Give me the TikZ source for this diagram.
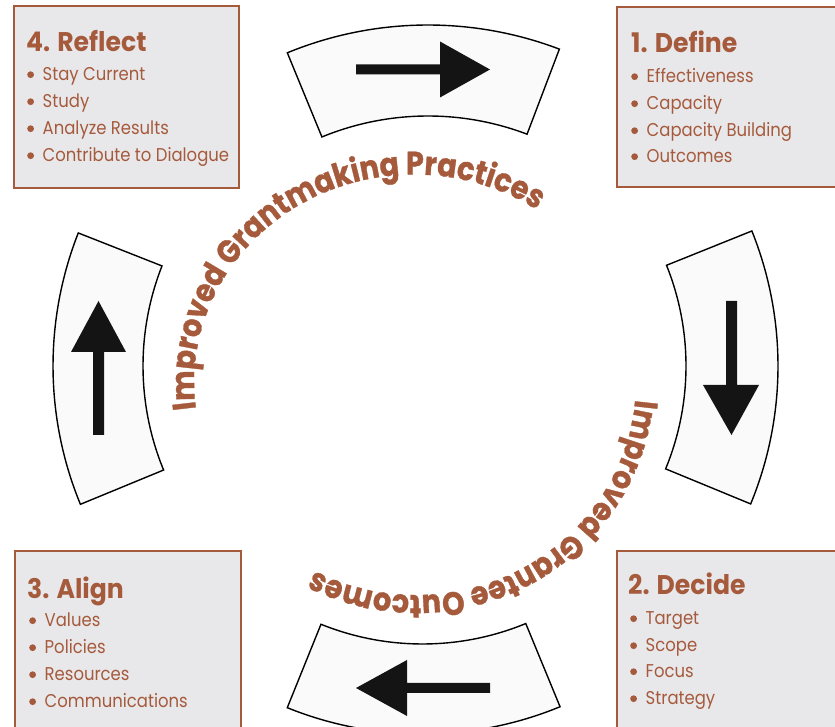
\documentclass[tikz,border=0pt]{standalone}
\usepackage{fontspec}
\usetikzlibrary{calc,decorations.text}
\newfontfamily\pop{Poppins}[FakeStretch=0.89]
\newfontfamily\popt{Poppins}[FakeStretch=0.93]
\newfontfamily\popc{Poppins}[FakeStretch=0.88,FakeBold=1]
\definecolor{tbrown}{RGB}{166,90,60}
\definecolor{boxfill}{RGB}{232,232,235}
\definecolor{segfill}{RGB}{250,250,250}
\definecolor{arrowfill}{RGB}{20,20,20}
\newcommand\bul{\makebox[15.5pt][l]{\tikz[baseline=0pt]\fill[tbrown] (3.5pt,6.3pt) circle (3.4pt);}}
\tikzset{
 panel/.style={draw=tbrown, line width=2pt, fill=boxfill, inner sep=0pt, anchor=south west},
 ttl/.style={anchor=base west, inner sep=0pt, text=tbrown, font=\popt\bfseries\fontsize{27}{27}\selectfont},
 itm/.style={anchor=base west, inner sep=0pt, text=tbrown, font=\pop\fontsize{18.5}{18.5}\selectfont},
 seg/.style={draw=black, line width=1.4pt, fill=segfill},
 arr/.style={fill=arrowfill, draw=none},
}
\begin{document}
\begin{tikzpicture}[x=1pt,y=1pt]
\useasboundingbox (0,0) rectangle (835,727);
% panels
\node[panel, minimum width=225pt, minimum height=182pt] (b4) at (13,538) {};
\node[panel, minimum width=230pt, minimum height=180pt] (b1) at (616,539) {};
\node[panel, minimum width=226pt, minimum height=185pt] (b3) at (14,-10) {};
\node[panel, minimum width=230pt, minimum height=185pt] (b2) at (616,-10) {};
% box 4
\node[ttl] (t4) at (26,675) {4. Reflect};
\node[itm] (i41) at (27,646) {\bul Stay Current};
\node[itm] (i42) at (27,619) {\bul Study};
\node[itm] (i43) at (27,592) {\bul Analyze Results};
\node[itm] (i44) at (27,565) {\bul Contribute to Dialogue};
% box 1
\node[ttl] (t1) at (631,674) {1. Define};
\node[itm] (i11) at (631,644) {\bul Effectiveness};
\node[itm] (i12) at (631,617) {\bul Capacity};
\node[itm] (i13) at (631,590) {\bul Capacity Building};
\node[itm] (i14) at (631,564) {\bul Outcomes};
% box 3
\node[ttl] (t3) at (27,128) {3. Align};
\node[itm] (i31) at (29,100) {\bul Values};
\node[itm] (i32) at (29,73) {\bul Policies};
\node[itm] (i33) at (29,46) {\bul Resources};
\node[itm] (i34) at (29,19) {\bul Communications};
% box 2
\node[ttl] (t2) at (628,132) {2. Decide};
\node[itm] (i21) at (630,102) {\bul Target};
\node[itm] (i22) at (630,75) {\bul Scope};
\node[itm] (i23) at (630,49) {\bul Focus};
\node[itm] (i24) at (630,22) {\bul Strategy};
% segment centres
\coordinate (Ctop) at (428,332);
\coordinate (Clr) at (416,361);
\coordinate (Cbot) at (422.5,354);
\coordinate (Ctxt) at (416,346);
% segments
\draw[seg] ($(Ctop)+(112.35:370pt)$) arc[start angle=112.35,end angle=69.2,radius=370pt]
  -- ($(Ctop)+(69.2:279pt)$) arc[start angle=69.2,end angle=112.35,radius=279pt] -- cycle;
\draw[seg] ($(Clr)+(158.5:363pt)$) arc[start angle=158.5,end angle=202.4,radius=363pt]
  -- ($(Clr)+(202.4:273pt)$) arc[start angle=202.4,end angle=158.5,radius=273pt] -- cycle;
\draw[seg] ($(Clr)+(-22.4:362pt)$) arc[start angle=-22.4,end angle=21.9,radius=362pt]
  -- ($(Clr)+(21.9:270pt)$) arc[start angle=21.9,end angle=-22.4,radius=270pt] -- cycle;
\draw[seg] ($(Cbot)+(248:361pt)$) arc[start angle=248,end angle=292.4,radius=361pt]
  -- ($(Cbot)+(292.4:271pt)$) arc[start angle=292.4,end angle=248,radius=271pt] -- cycle;
% arrows
\fill[arr] (356,652.5) -- (440,652.5) -- (440,629.5) -- (490,657.5) -- (440,685.5) -- (440,662.5) -- (356,662.5) -- cycle;
\fill[arr] (93,292) -- (93,375) -- (71,375) -- (98.5,426) -- (126,375) -- (104,375) -- (104,292) -- cycle;
\fill[arr] (726,426) -- (726,342) -- (703,342) -- (731.5,292) -- (759,342) -- (737,342) -- (737,426) -- cycle;
\fill[arr] (490,34) -- (407,34) -- (407,11) -- (356,39) -- (407,67) -- (407,44) -- (490,44) -- cycle;
% curved texts
\path[decorate, decoration={text along path, text align={left},
  text={|\popc\bfseries\fontsize{32.5}{32.5}\selectfont\color{tbrown}|Improved Grantmaking Practices}}]
  ($(Ctxt)+(-220pt,-28pt)$) arc[start angle=187.3,end angle=10,x radius=220pt,y radius=208pt];
\path[decorate, decoration={text along path, text align={left},
  text={|\popc\bfseries\fontsize{32.5}{32.5}\selectfont\color{tbrown}|Improved Grantee Outcomes}}]
  ($(Ctxt)+(219.2pt,-18.6pt)$) arc[start angle=-5,end angle=-175,x radius=220pt,y radius=214pt];
\end{tikzpicture}
\end{document}
